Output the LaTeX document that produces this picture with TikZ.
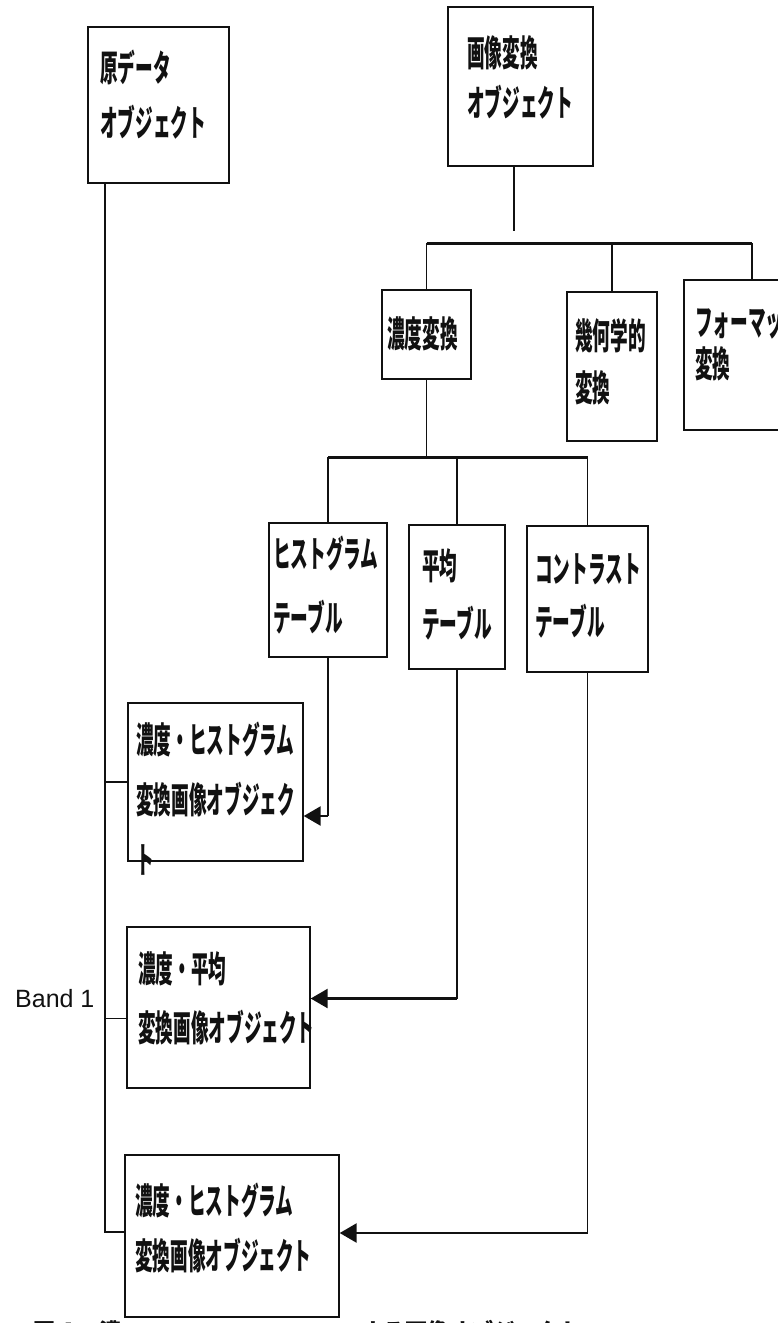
\documentclass[tikz,border=0pt]{standalone}
\usepackage{fontspec}
\usepackage{tikz}
\usetikzlibrary{arrows.meta,calc}
\setsansfont{Liberation Sans}
\newfontfamily\jpfont[FakeStretch=0.49]{Noto Sans CJK JP}
\newfontfamily\capfont{Noto Sans CJK JP}
\definecolor{ink}{HTML}{111111}
\tikzset{objbox/.style={draw=ink,line width=1.4pt,fill=white,inner sep=0pt},boxtext/.style={font=\jpfont\bfseries\fontsize{36}{#1}\selectfont,text=ink,align=left,inner sep=0pt,anchor=north west},boxtext/.default=52pt,link/.style={draw=ink,line width=1.4pt},bar/.style={draw=ink,line width=3pt},feed/.style={draw=ink,line width=2.6pt,-{Triangle[length=17pt,width=19pt]}}}

\begin{document}
\begin{tikzpicture}[x=1pt,y=-1pt]
\path[use as bounding box,clip] (0,0) rectangle (778,1323);
% caption, mostly hidden under the last box
\node[font=\capfont\bfseries\fontsize{22}{26}\selectfont,text=ink,anchor=base west,inner sep=0pt] (cap) at (33,1339) {図４　濃\phantom{度・ヒストグラム変換に}よる画像オブジェクト};
% boxes
\node[objbox,minimum width=141pt,minimum height=156pt] (src) at (158.5,105) {};
\node[objbox,minimum width=145pt,minimum height=159pt] (xform) at (520.5,86.5) {};
\node[objbox,minimum width=89pt,minimum height=89pt] (dens) at (426.5,334.5) {};
\node[objbox,minimum width=90pt,minimum height=149pt] (geom) at (612,366.5) {};
\node[objbox,minimum width=136pt,minimum height=150pt] (fmt) at (752,355) {};
\node[objbox,minimum width=118pt,minimum height=134pt] (hist) at (328,590) {};
\node[objbox,minimum width=96pt,minimum height=144pt] (mean) at (457,597) {};
\node[objbox,minimum width=121pt,minimum height=146pt] (cont) at (587.5,599) {};
\node[objbox,minimum width=175pt,minimum height=158pt] (dhist) at (215.5,782) {};
\node[objbox,minimum width=183pt,minimum height=161pt] (dmean) at (218.5,1007.5) {};
\node[objbox,minimum width=214pt,minimum height=162pt] (dcont) at (232,1236) {};
% texts
\node[boxtext=55pt] (src-t) at (100,50) {原データ\\オブジェクト};
\node[boxtext=50pt] (xform-t) at (467,35) {画像変換\\オブジェクト};
\node[boxtext] (dens-t) at (387,316) {濃度変換};
\node[boxtext=52pt] (geom-t) at (575,318) {幾何学的\\変換};
\node[boxtext=42pt] (fmt-t) at (695,306) {フォーマット\\変換};
\node[boxtext=64pt] (hist-t) at (273,536) {ヒストグラム\\テーブル};
\node[boxtext=58pt] (mean-t) at (422,548) {平均\\テーブル};
\node[boxtext=53pt] (cont-t) at (535,553) {コントラスト\\テーブル};
\node[boxtext=60pt] (dhist-t) at (136,722) {濃度・ヒストグラム\\変換画像オブジェク\\ト};
\node[boxtext=59pt] (dmean-t) at (138,951) {濃度・平均\\変換画像オブジェクト};
\node[boxtext=55pt] (dcont-t) at (135,1183) {濃度・ヒストグラム\\変換画像オブジェクト};
\node[font=\sffamily\fontsize{25}{30}\selectfont,text=ink,anchor=base west,inner sep=0pt] (band) at (15,1007) {Band 1};
% tree
\coordinate (gap) at (514,231);
\coordinate (fork1) at (514,243);
\coordinate (fork2) at (423,457);
\draw[link] (xform.south -| gap) -- (gap);
\draw[bar] (dens.north |- fork1) -- (fmt.north |- fork1);
\foreach \n in {dens,geom,fmt}{\draw[link] (\n.north |- fork1) -- (\n.north);}
\draw[link] (dens.south) -- (dens.south |- fork2);
\draw[bar] (hist.north |- fork2) -- (cont.north |- fork2);
\foreach \n in {hist,mean,cont}{\draw[link] (\n.north |- fork2) -- (\n.north);}
% band 1 trunk
\coordinate (trunk) at (105,0);
\coordinate (m2) at ([yshift=-11pt]dmean.west);
\coordinate (c2) at ([yshift=4pt]dcont.west);
\draw[link] (src.south -| trunk) |- (c2);
\draw[link] (trunk |- dhist.west) -- (dhist.west);
\draw[link] (trunk |- m2) -- (m2);
% table feeds
\coordinate (h3) at ([yshift=-34pt]dhist.east);
\coordinate (m3) at ([yshift=9pt]dmean.east);
\coordinate (c3) at ([yshift=3pt]dcont.east);
\foreach \u/\v in {hist/h3,mean/m3,cont/c3}{\draw[link] (\u.south) -- (\u.south |- \v);\draw[feed] (\u.south |- \v) -- (\v);}
\end{tikzpicture}
\end{document}
